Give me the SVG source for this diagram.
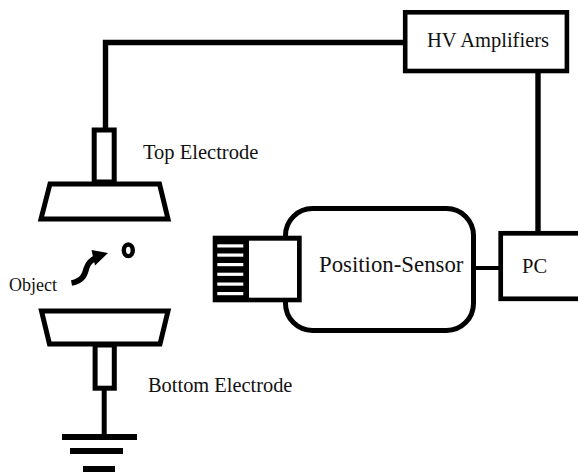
<svg xmlns="http://www.w3.org/2000/svg" width="578" height="473" viewBox="0 0 578 473">
<style>
.s{fill:none;stroke:#000;stroke-width:5}
.b{fill:#000}
.w{fill:#fff}
text{font-family:"Liberation Serif","Times New Roman",serif;fill:#111}
</style>
<rect width="578" height="473" fill="#fff"/>
<g id="connectors">
<path class="s" d="M405 42.500H105.500V130" style="stroke-width:5.400"/>
<path class="s" d="M538 70V233" style="stroke-width:5.400"/>
<path class="s" style="stroke-width:4" d="M474 268H501"/>
<path class="s" d="M104.200 388V436"/>
</g>
<g id="hv-amplifiers">
<rect class="s" x="405.200" y="12.300" width="161.700" height="58.700" style="stroke-width:4.600"/>
<text x="427" y="46.500" font-size="20.500">HV Amplifiers</text>
</g>
<g id="pc">
<rect class="s" x="500.700" y="233.300" width="80" height="65.500" style="stroke-width:4.700"/>
<text x="522" y="272.500" font-size="20.500">PC</text>
</g>
<g id="position-sensor">
<rect class="s" x="285.500" y="208.500" width="188" height="122" rx="27" ry="27"/>
<rect class="b" x="471.500" y="250" width="4.500" height="50"/>
<text x="319" y="271.700" font-size="22.800">Position-Sensor</text>
</g>
<g id="sensor-head">
<rect class="b" x="212.700" y="235.700" width="89" height="66.600"/>
<rect class="w" x="249" y="240.700" width="48" height="57"/>
<rect class="w" x="217.300" y="244.300" width="26" height="3.200"/>
<rect class="w" x="217.300" y="253.500" width="26" height="3.200"/>
<rect class="w" x="217.300" y="263" width="26" height="3.200"/>
<rect class="w" x="217.300" y="272.700" width="26" height="3.200"/>
<rect class="w" x="217.300" y="282.500" width="26" height="3.200"/>
<rect class="w" x="217.300" y="292" width="26" height="3.200"/>
</g>
<g id="top-electrode">
<rect class="s" x="94.200" y="130" width="20" height="52"/>
<polygon class="s" points="50,184 159.500,184 168,219 41,219"/>
<text x="143" y="158.500" font-size="20.500">Top Electrode</text>
</g>
<g id="bottom-electrode">
<rect class="s" x="95.100" y="345" width="19.200" height="43.200"/>
<polygon class="s" points="41.500,311 168,311 160,344 49.500,344"/>
<text x="148" y="391.500" font-size="20.400">Bottom Electrode</text>
</g>
<g id="ground">
<rect class="b" x="62" y="434" width="75" height="6"/>
<rect class="b" x="70" y="448" width="53" height="6"/>
<rect class="b" x="83" y="466" width="32" height="6"/>
</g>
<g id="object">
<ellipse class="s" cx="128.300" cy="250.300" rx="4.500" ry="5.800" style="stroke-width:4.400"/>
<path class="s" d="M71.500 283C83 281 85 274 86.500 268C88 263 91 260 97 257" style="stroke-width:5.800"/>
<polygon class="b" points="108,253 91.500,250 95,265.500"/>
<text x="9" y="290.500" font-size="18">Object</text>
</g>
</svg>
